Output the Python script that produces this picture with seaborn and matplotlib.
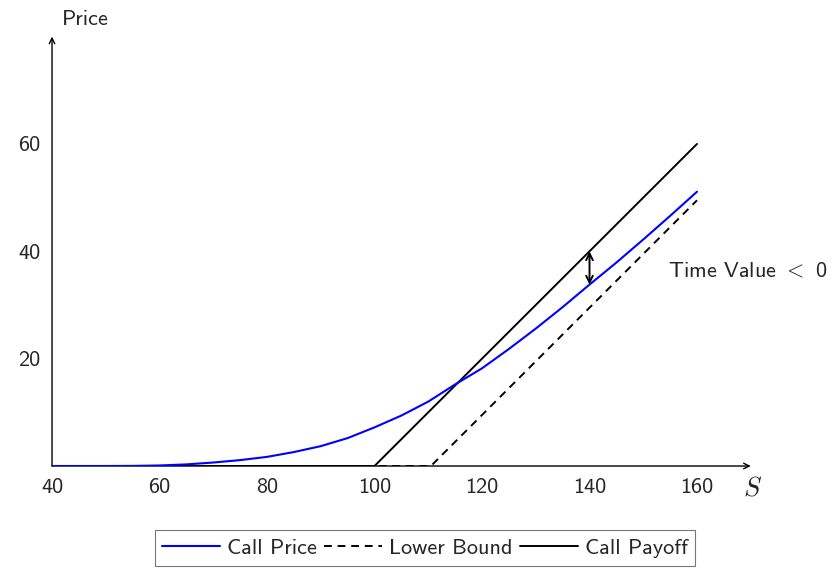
import numpy as np
import pandas as pd
import seaborn as sns
import matplotlib.pyplot as plt

# ─── Data ────────────────────────────────────────────────────────────
spot = [40, 45, 50, 55, 60, 65, 70, 75, 80, 85, 90, 95, 100,
        105, 110, 115, 120, 125, 130, 135, 140, 145, 150, 155, 160]
call_price = [0.0, 0.0, 0.0, 0.02, 0.1, 0.3, 0.65, 1.1, 1.7, 2.6, 3.7, 5.2, 7.2,
              9.4, 12.0, 15.2, 18.2, 21.8, 25.6, 29.6, 33.8, 37.9, 42.2, 46.6, 51.1]

bound_spot = [40, 110.5, 160]
lower_bound = [0, 0, 49.5]

payoff_spot = [40, 100, 160]
call_payoff = [0, 0, 60]

x_ticks = [40, 60, 80, 100, 120, 140, 160]
y_ticks = [20, 40, 60]
arrow_at = 140

sns.set_style("white")
plt.rcParams['font.family'] = ['cmss10', 'DejaVu Sans']
plt.rcParams['mathtext.fontset'] = 'cm'
plt.rcParams['axes.unicode_minus'] = False
fs = 16

fig = plt.figure(figsize=(8.35, 5.72), dpi=100)
ax = fig.add_axes([0.0623, 0.1853, 0.8368, 0.7507])

sns.lineplot(x=spot, y=call_price, ax=ax, color="blue", lw=1.5, label="Call Price", zorder=4)
sns.lineplot(x=bound_spot, y=lower_bound, ax=ax, color="black", lw=1.4,
             linestyle=(0, (4, 3)), label="Lower Bound", zorder=3)
sns.lineplot(x=payoff_spot, y=call_payoff, ax=ax, color="black", lw=1.4,
             label="Call Payoff", zorder=3)

ax.set_xlim(40, 170)
ax.set_ylim(0, 80)
ax.set_xticks(x_ticks)
ax.set_yticks(y_ticks)
ax.tick_params(direction="inout", length=7, width=0.6, color="gray",
               labelsize=fs, pad=5)
for side in ["top", "right", "left", "bottom"]:
    ax.spines[side].set_visible(False)

# axis lines with arrow heads
ax.annotate("", xy=(1, 0), xytext=(0, 0), xycoords="axes fraction",
            arrowprops=dict(arrowstyle="->", color="black", lw=1.0,
                            shrinkA=0, shrinkB=0), annotation_clip=False, zorder=1)
ax.annotate("", xy=(0, 1), xytext=(0, 0), xycoords="axes fraction",
            arrowprops=dict(arrowstyle="->", color="black", lw=1.0,
                            shrinkA=0, shrinkB=0), annotation_clip=False, zorder=1)

ax.text(0.014, 1.04, "Price", transform=ax.transAxes, ha="left", va="center",
        fontsize=fs)
ax.text(1.003, -0.052, "$S$", transform=ax.transAxes, ha="center", va="center",
        fontsize=fs + 3)

# time value arrow
i = spot.index(arrow_at)
j_payoff = np.interp(arrow_at, payoff_spot, call_payoff)
ax.annotate("", xy=(arrow_at, call_price[i]), xytext=(arrow_at, j_payoff),
            arrowprops=dict(arrowstyle="<->", color="black", lw=1.4,
                            shrinkA=0, shrinkB=0, mutation_scale=12), zorder=5)
ax.text(154.6, 36.3, r"Time Value $<$ 0", ha="left", va="center", fontsize=fs)

ax.get_legend().remove()
handles, labels = ax.get_legend_handles_labels()
leg = fig.legend(handles, labels, loc="center", bbox_to_anchor=(0.509, 0.042),
                 ncol=3, frameon=True, fancybox=False, fontsize=fs,
                 handlelength=2.6, handletextpad=0.3, columnspacing=0.35,
                 borderpad=0.35)
leg.get_frame().set_edgecolor("#555555")
leg.get_frame().set_linewidth(0.8)

fig.savefig("out.png", dpi=100)
